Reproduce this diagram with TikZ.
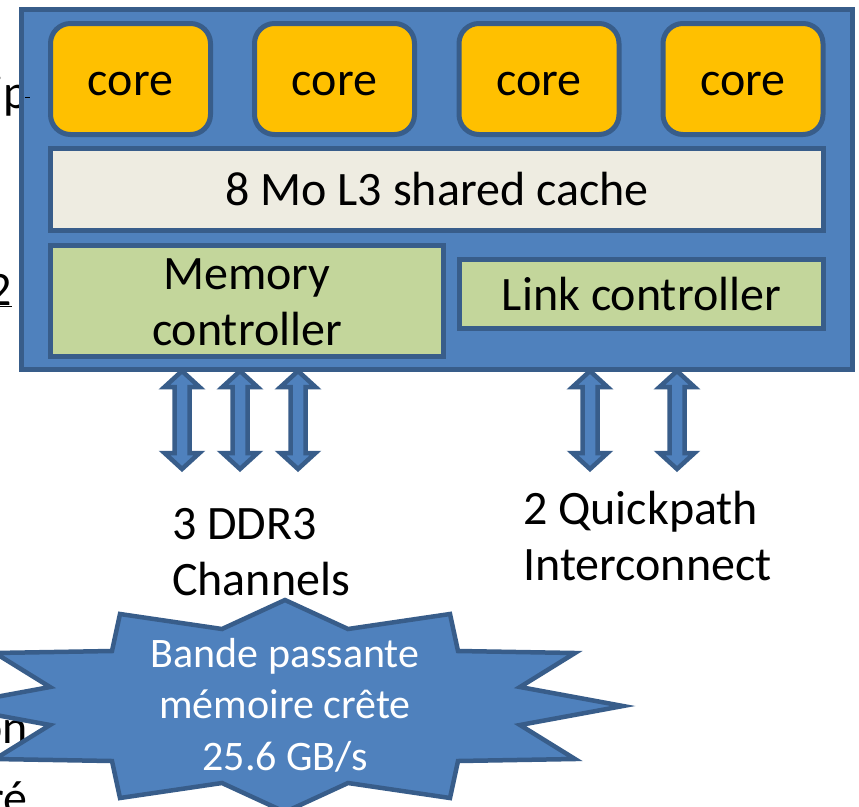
\documentclass[tikz,border=0pt]{standalone}
\usepackage{fontspec}
\setmainfont{Carlito}

\definecolor{chipblue}{HTML}{4F81BD}
\definecolor{edgeblue}{HTML}{385D8A}
\definecolor{coreyellow}{HTML}{FFC000}
\definecolor{cachegrey}{HTML}{EEECE1}
\definecolor{ctrlgreen}{HTML}{C3D69B}

\tikzset{
  blk/.style={draw=edgeblue, line width=5pt, inner sep=0pt, rectangle},
  chipbox/.style={blk, fill=chipblue},
  corebox/.style={blk, fill=coreyellow, rounded corners=20pt,
    minimum width=160pt, minimum height=111pt},
  cachebox/.style={blk, fill=cachegrey},
  ctrlbox/.style={blk, fill=ctrlgreen},
  txt/.style={inner sep=0pt, anchor=base, font=\fontsize{48}{55.5}\selectfont},
  burst/.style={draw=edgeblue, fill=chipblue, line width=4.5pt, line join=miter},
  bursttxt/.style={inner sep=0pt, anchor=base, text=white, align=center,
    font=\fontsize{42}{51.5}\selectfont},
  busarrow/.style={draw=edgeblue, fill=chipblue, line width=4.5pt, line join=miter},
}

% double-headed bus arrow hanging below the chip, centred on x = #1
\newcommand\chanarrow[1]{%
  \draw[busarrow] (#1,371) -- (#1+17.5,387) -- (#1+7.5,387) -- (#1+7.5,453)
    -- (#1+17.5,453) -- (#1,469) -- (#1-17.5,453) -- (#1-7.5,453)
    -- (#1-7.5,387) -- (#1-17.5,387) -- cycle;}

\begin{document}
\begin{tikzpicture}[x=1pt, y=-1pt]
  \useasboundingbox (0,0) rectangle (859,806);
  \clip (0,0) rectangle (859,806);
  \fill[white] (0,0) rectangle (859,806);

  % fragments of neighbouring text, partly covered
  \node[txt, anchor=base east] (fragA) at (28.5,108) {ip};
  \node[txt, anchor=base east] (fragB) at (12.5,305) {\underline{2}};
  \node[txt, anchor=base east] (fragC) at (28,743) {on};
  \node[txt, anchor=base east] (fragD) at (28,814) {ré};

  % processor package
  \node[chipbox, minimum width=831pt, minimum height=360.5pt] (chip) at (437,189.5) {};
  \draw[line width=1pt] (25,97.5) -- (30,97.5);

  % four cores
  \node[corebox] (c1) at (130.5,79) {};
  \node[corebox] (c2) at (334.5,79) {};
  \node[corebox] (c3) at (539,79) {};
  \node[corebox] (c4) at (743,79) {};
  \foreach \c in {c1,c2,c3,c4}
    \node[txt] at ([yshift=-16pt]\c.center) {core};

  % shared cache and controllers
  \node[cachebox, minimum width=773pt, minimum height=82pt] (l3) at (437,189.5) {};
  \node[txt] (l3t) at (437,205) {8 Mo L3 shared cache};

  \node[ctrlbox, minimum width=393pt, minimum height=111pt] (mc) at (247,301) {};
  \node[txt, align=center] (mct) at (247,345) {Memory\\controller};

  \node[ctrlbox, minimum width=364pt, minimum height=69pt] (lc) at (641.5,294) {};
  \node[txt] (lct) at (641.5,310) {Link controller};

  % memory channels and interconnect links
  \chanarrow{182}
  \chanarrow{240}
  \chanarrow{298}
  \chanarrow{590}
  \chanarrow{677}

  \node[txt, anchor=base west, align=left] (ddr) at (172,595) {3 DDR3\\Channels};
  \node[txt, anchor=base west, align=left] (qpi) at (523,580) {2 Quickpath\\Interconnect};

  % bandwidth burst
  \draw[burst] (285,600) -- (348,629) -- (450,614) -- (458,651) -- (575,653)
    -- (520,687) -- (623,706) -- (520,725) -- (575,759) -- (458,761)
    -- (450,798) -- (348,783) -- (285,812) -- (222,783) -- (120,798)
    -- (112,761) -- (-5,759) -- (50,725) -- (-53,706) -- (50,687)
    -- (-5,653) -- (112,651) -- (120,614) -- (222,629) -- cycle;
  \node[bursttxt] (bw) at (285,770) {Bande passante\\mémoire crête\\25.6 GB/s};
\end{tikzpicture}
\end{document}
